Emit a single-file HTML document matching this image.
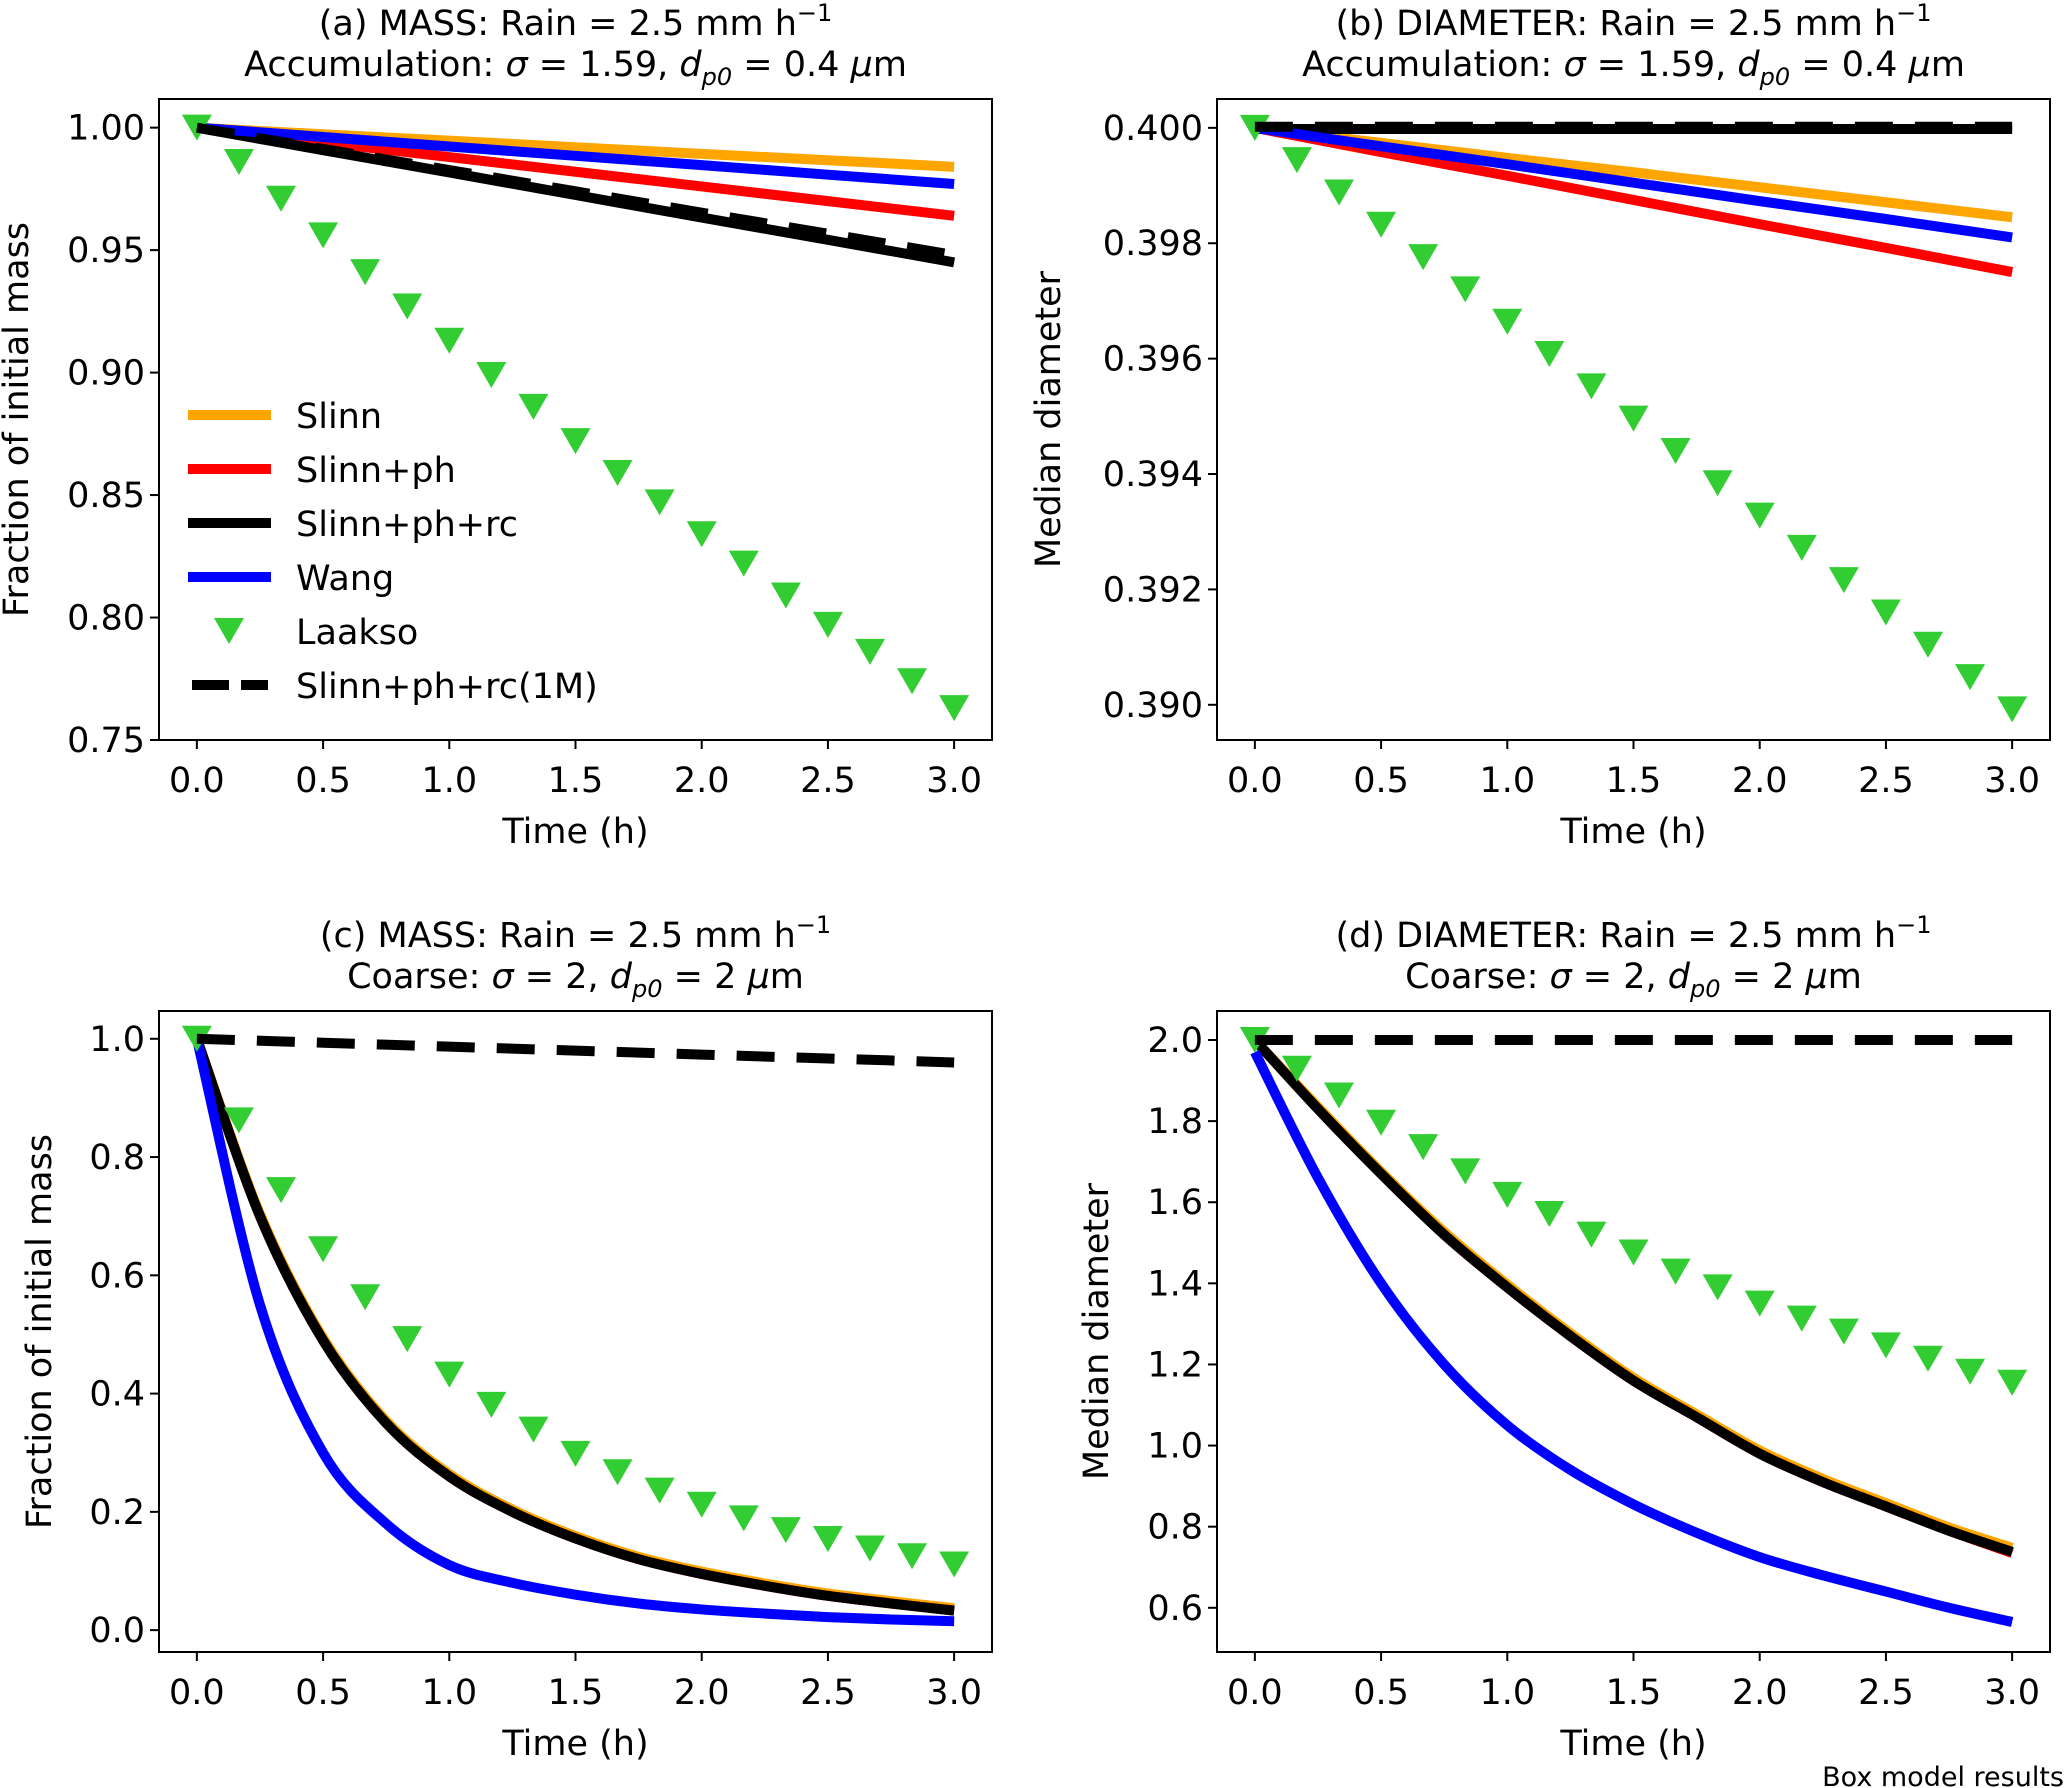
<!DOCTYPE html>
<html><head><meta charset="utf-8"><style>
body{margin:0;background:#fff;}
svg{display:block;font-family:"DejaVu Sans","Liberation Sans",sans-serif;}
</style></head><body>
<svg id="fig" width="2067" height="1788" viewBox="0 0 2067 1788" xmlns="http://www.w3.org/2000/svg">
<rect width="2067" height="1788" fill="#fff"/>
<text x="2064" y="1786" font-size="27" text-anchor="end">Box model results</text>
</svg>
<script>
// ---- data ----
const tLine7 = [0,0.5,1,1.5,2,2.5,3];
const tLine13 = [0,0.25,0.5,0.75,1,1.25,1.5,1.75,2,2.25,2.5,2.75,3];
const tLaakso = [0,1/6,2/6,3/6,4/6,5/6,1,7/6,8/6,9/6,10/6,11/6,2,13/6,14/6,15/6,16/6,17/6,3];

const aSlinn = [1,0.9973,0.9947,0.992,0.9893,0.9867,0.984];
const aSlinnPh = [1,0.994,0.988,0.982,0.976,0.970,0.964];
const aSlinnPhRc = [1,0.9908,0.9817,0.9725,0.9633,0.9542,0.945];
const aWang = [1,0.9962,0.9923,0.9885,0.9847,0.9808,0.977];
const aLaakso = [1,0.986,0.971,0.956,0.941,0.927,0.913,0.899,0.886,0.872,0.859,0.847,0.834,0.822,0.809,0.797,0.786,0.774,0.763];
const a1M = [1,0.9913,0.9827,0.974,0.9653,0.9567,0.948];

const bSlinn = [0.4,0.39974,0.39948,0.39923,0.39897,0.39871,0.39845];
const bSlinnPh = [0.4,0.39958,0.39917,0.39875,0.39833,0.39792,0.3975];
const bSlinnPhRc = [0.39998,0.39998,0.39998,0.39998,0.39998,0.39998,0.39998];
const bWang = [0.4,0.39968,0.39937,0.39905,0.39873,0.39842,0.3981];
const bLaakso = [0.4,0.39944,0.39888,0.39832,0.39776,0.3972,0.39664,0.39608,0.39552,0.39496,0.3944,0.39384,0.39328,0.39272,0.39216,0.3916,0.39104,0.39048,0.38992];
const b1M = [0.40002,0.40002,0.40002,0.40002,0.40002,0.40002,0.40002];

const cSlinn = [1,0.704,0.494,0.354,0.264,0.204,0.159,0.124,0.099,0.079,0.062,0.049,0.037];
const cSlinnPh = [1,0.70,0.49,0.35,0.26,0.20,0.155,0.12,0.095,0.075,0.058,0.045,0.033];
const cSlinnPhRc = [1,0.70,0.49,0.35,0.26,0.20,0.155,0.12,0.095,0.075,0.058,0.045,0.033];
const cWang = [1,0.55,0.30,0.18,0.11,0.08,0.06,0.045,0.035,0.028,0.022,0.018,0.015];
const cLaakso = [1.0,0.862,0.744,0.644,0.563,0.492,0.432,0.381,0.339,0.298,0.267,0.236,0.212,0.189,0.169,0.154,0.138,0.125,0.111];
const c1M = [1,0.9933,0.9867,0.98,0.9733,0.9667,0.96];

const dSlinn = [2.0,1.835,1.675,1.527,1.397,1.277,1.167,1.077,0.988,0.918,0.858,0.798,0.748];
const dSlinnPh = [2.0,1.83,1.67,1.52,1.39,1.27,1.16,1.07,0.98,0.91,0.85,0.79,0.735];
const dSlinnPhRc = [2.0,1.83,1.67,1.52,1.39,1.27,1.16,1.07,0.98,0.91,0.85,0.79,0.738];
const dWang = [1.97,1.66,1.40,1.20,1.05,0.94,0.855,0.785,0.725,0.68,0.64,0.60,0.565];
const dLaakso = [2.0,1.929,1.863,1.796,1.736,1.676,1.618,1.571,1.520,1.476,1.429,1.390,1.350,1.313,1.281,1.247,1.214,1.182,1.155];
const d1M = [2,2,2,2,2,2,2];

const xTicks = [0,0.5,1,1.5,2,2.5,3];
const xTickLabels = ["0.0","0.5","1.0","1.5","2.0","2.5","3.0"];
const aYTicks = [0.75,0.80,0.85,0.90,0.95,1.00];
const aYTickLabels = ["0.75","0.80","0.85","0.90","0.95","1.00"];
const bYTicks = [0.390,0.392,0.394,0.396,0.398,0.400];
const bYTickLabels = ["0.390","0.392","0.394","0.396","0.398","0.400"];
const cYTicks = [0,0.2,0.4,0.6,0.8,1.0];
const cYTickLabels = ["0.0","0.2","0.4","0.6","0.8","1.0"];
const dYTicks = [0.6,0.8,1.0,1.2,1.4,1.6,1.8,2.0];
const dYTickLabels = ["0.6","0.8","1.0","1.2","1.4","1.6","1.8","2.0"];
const legendLabels = ["Slinn","Slinn+ph","Slinn+ph+rc","Wang","Laakso","Slinn+ph+rc(1M)"];

// ---- drawing ----
const NS="http://www.w3.org/2000/svg";
const svg=document.getElementById('fig');
const FS=35;
function mk(tag,attrs,parent){const e=document.createElementNS(NS,tag);for(const k in attrs)e.setAttribute(k,attrs[k]);(parent||svg).appendChild(e);return e;}
function smoothPath(pts){
  let d='M'+pts[0][0]+','+pts[0][1];
  for(let i=0;i<pts.length-1;i++){
    const p0=pts[Math.max(i-1,0)],p1=pts[i],p2=pts[i+1],p3=pts[Math.min(i+2,pts.length-1)];
    const c1=[p1[0]+(p2[0]-p0[0])/6,p1[1]+(p2[1]-p0[1])/6];
    const c2=[p2[0]-(p3[0]-p1[0])/6,p2[1]-(p3[1]-p1[1])/6];
    d+=` C${c1[0]},${c1[1]} ${c2[0]},${c2[1]} ${p2[0]},${p2[1]}`;
  }
  return d;
}

function panel(o){
  const g=mk('g',{});
  
  
  const L=o.box[0],T=o.box[1],R=o.box[2],B=o.box[3];
  const sx=v=>L+(v-(-0.15))/(3.3)*(R-L);
  const sy=v=>B-(v-o.ylim[0])/(o.ylim[1]-o.ylim[0])*(B-T);
  const cx=(L+R)/2;
  const t1=mk('text',{x:cx,y:T-64,'font-size':FS,'text-anchor':'middle'},g);
  t1.innerHTML=o.title1+' h<tspan dy="-14" font-size="24">−1</tspan>';
  
  
  const t2=mk('text',{x:cx,y:T-23,'font-size':FS,'text-anchor':'middle'},g);
  t2.innerHTML=o.title2;
  
  
  xTicks.forEach((v,i)=>{
    mk('line',{x1:sx(v),x2:sx(v),y1:B,y2:B+9,stroke:'#000','stroke-width':2},g);
    const tx=mk('text',{x:sx(v),y:B+52,'font-size':FS,'text-anchor':'middle'},g);
    tx.textContent=xTickLabels[i];
    
    
  });
  o.yTicks.forEach((v,i)=>{
    mk('line',{x1:L-9,x2:L,y1:sy(v),y2:sy(v),stroke:'#000','stroke-width':2},g);
    const ty=mk('text',{x:L-14,y:sy(v)+12,'font-size':FS,'text-anchor':'end'},g);
    ty.textContent=o.yTickLabels[i];
    
    
  });
  const xl=mk('text',{x:cx,y:B+103,'font-size':FS,'text-anchor':'middle'},g);
  xl.textContent='Time (h)';
  
  
  const ylx=o.ylabelX, yly=(T+B)/2;
  const yl=mk('text',{x:ylx,y:yly,'font-size':FS,'text-anchor':'middle',transform:`rotate(-90 ${ylx} ${yly})`},g);
  yl.textContent=o.ylabel;
  
  
  const series=[
    [o.slinn,'#ffa500','series-slinn'],
    [o.slinnPh,'#ff0000','series-slinn-ph'],
    [o.slinnPhRc,'#000000','series-slinn-ph-rc'],
    [o.wang,'#0000ff','series-wang']];
  series.forEach(s=>{
    const pts=s[0].map((v,i)=>[sx(o.tl[i]),sy(v)]);
    const p=mk('path',{d:smoothPath(pts),fill:'none',stroke:s[1],'stroke-width':10,'stroke-linejoin':'round'},g);
    
    
  });
  o.laakso.forEach((v,i)=>{
    const x=sx(tLaakso[i]),y=sy(v);
    const m=mk('polygon',{points:`${x-15},${y-13} ${x+15},${y-13} ${x},${y+13}`,fill:'#32cd32'},g);
    
    
  });
  const dp=mk('polyline',{points:o.oneM.map((v,i)=>sx(tLine7[i])+','+sy(v)).join(' '),fill:'none',stroke:'#000','stroke-width':10,'stroke-dasharray':'38 22'},g);
  
  
  const fr=mk('rect',{x:L,y:T,width:R-L,height:B-T,fill:'none',stroke:'#000','stroke-width':2},g);
  
  
  return g;
}

const sub=(a,b)=>`<tspan font-style="italic">σ</tspan> = ${a}, <tspan font-style="italic">d</tspan><tspan font-style="italic" font-size="24" dy="9">p0</tspan><tspan dy="-9"> = ${b} </tspan><tspan font-style="italic">μ</tspan>m`;

panel({name:'panel-a-mass-accumulation',box:[159,99,992,740],ylim:[0.75,1.0117],
  title1:'(a) MASS: Rain = 2.5 mm',title2:'Accumulation: '+sub('1.59','0.4'),
  yTicks:aYTicks,yTickLabels:aYTickLabels,ylabel:'Fraction of initial mass',ylabelX:28,tl:tLine7,
  slinn:aSlinn,slinnPh:aSlinnPh,slinnPhRc:aSlinnPhRc,wang:aWang,laakso:aLaakso,oneM:a1M});
panel({name:'panel-b-diameter-accumulation',box:[1217,99,2050,740],ylim:[0.38939,0.40050],
  title1:'(b) DIAMETER: Rain = 2.5 mm',title2:'Accumulation: '+sub('1.59','0.4'),
  yTicks:bYTicks,yTickLabels:bYTickLabels,ylabel:'Median diameter',ylabelX:1060,tl:tLine7,
  slinn:bSlinn,slinnPh:bSlinnPh,slinnPhRc:bSlinnPhRc,wang:bWang,laakso:bLaakso,oneM:b1M});
panel({name:'panel-c-mass-coarse',box:[159,1011,992,1652],ylim:[-0.037,1.047],
  title1:'(c) MASS: Rain = 2.5 mm',title2:'Coarse: '+sub('2','2'),
  yTicks:cYTicks,yTickLabels:cYTickLabels,ylabel:'Fraction of initial mass',ylabelX:51,tl:tLine13,
  slinn:cSlinn,slinnPh:cSlinnPh,slinnPhRc:cSlinnPhRc,wang:cWang,laakso:cLaakso,oneM:c1M});
panel({name:'panel-d-diameter-coarse',box:[1217,1011,2050,1652],ylim:[0.491,2.0715],
  title1:'(d) DIAMETER: Rain = 2.5 mm',title2:'Coarse: '+sub('2','2'),
  yTicks:dYTicks,yTickLabels:dYTickLabels,ylabel:'Median diameter',ylabelX:1108,tl:tLine13,
  slinn:dSlinn,slinnPh:dSlinnPh,slinnPhRc:dSlinnPhRc,wang:dWang,laakso:dLaakso,oneM:d1M});

const lg=mk('g',{});


const legColors=['#ffa500','#ff0000','#000000','#0000ff',null,'dash'];
legendLabels.forEach((lab,i)=>{
  const y=415+i*54;
  if(legColors[i]==='dash'){
    mk('line',{x1:192,x2:268,y1:y,y2:y,stroke:'#000','stroke-width':10,'stroke-dasharray':'37 12'},lg);
  } else if(legColors[i]){
    mk('line',{x1:188,x2:271,y1:y,y2:y,stroke:legColors[i],'stroke-width':10},lg);
  } else {
    mk('polygon',{points:`214,${y-13} 244,${y-13} 229,${y+13}`,fill:'#32cd32'},lg);
  }
  const t=mk('text',{x:296,y:y+13,'font-size':FS},lg);
  t.textContent=lab;
  
  
});
</script>
</body></html>
